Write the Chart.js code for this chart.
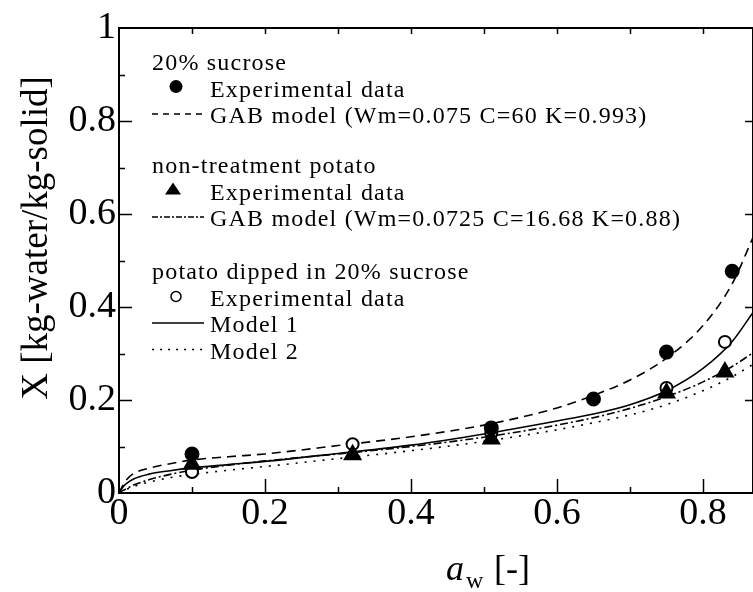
<!DOCTYPE html>
<html>
<head>
<meta charset="utf-8">
<script src="https://cdn.jsdelivr.net/npm/chart.js@4.4.1/dist/chart.umd.min.js"></script>
<style>
    body { margin: 0; background: #fff; overflow: hidden; }
    #wrap { width: 753px; height: 592px; position: relative; }
    canvas { display: block; }
</style>
</head>
<body>
<div id="wrap"><canvas id="sorptionChart"></canvas></div>
<script>
// model curves
const awModel = [0, 0.005, 0.01, 0.02, 0.04, 0.07, 0.1, 0.15, 0.2, 0.3, 0.4, 0.5, 0.6, 0.65, 0.7, 0.75, 0.8, 0.84, 0.87];
const gabSucrose = [0, 0.016, 0.028, 0.042, 0.053, 0.063, 0.071, 0.078, 0.084, 0.102, 0.121, 0.146, 0.183, 0.21, 0.243, 0.29, 0.36, 0.45, 0.555];
const gabPotato = [0, 0.005, 0.009, 0.017, 0.028, 0.04, 0.049, 0.06, 0.069, 0.084, 0.1, 0.12, 0.146, 0.162, 0.182, 0.207, 0.239, 0.272, 0.303];
const model1 = [0, 0.012, 0.02, 0.03, 0.04, 0.048, 0.054, 0.061, 0.068, 0.085, 0.103, 0.127, 0.155, 0.17, 0.19, 0.22, 0.268, 0.326, 0.392];
const model2 = [0, 0.004, 0.008, 0.014, 0.023, 0.033, 0.04, 0.049, 0.057, 0.074, 0.091, 0.111, 0.136, 0.151, 0.168, 0.19, 0.22, 0.25, 0.278];

// experimental points
const sucroseAw = [0.1, 0.51, 0.65, 0.75, 0.84];
const sucroseX = [0.084, 0.14, 0.202, 0.303, 0.477];
const potatoAw = [0.1, 0.32, 0.51, 0.75, 0.83];
const potatoX = [0.062, 0.082, 0.116, 0.215, 0.26];
const dippedAw = [0.1, 0.32, 0.51, 0.75, 0.83];
const dippedX = [0.045, 0.105, 0.129, 0.226, 0.325];

// axis ticks
const xTicks = [0, 0.2, 0.4, 0.6, 0.8];
const yTicks = [0, 0.2, 0.4, 0.6, 0.8, 1];

const SERIF = '"Liberation Serif", "Times New Roman", serif';

function pairs(xs, ys) {
    return xs.map((x, i) => ({x: x, y: ys[i]}));
}

function curve(ys, dash) {
    return {
        data: pairs(awModel, ys),
        showLine: true,
        borderColor: '#000',
        borderWidth: 1.6,
        borderDash: dash,
        pointRadius: 0,
        cubicInterpolationMode: 'monotone',
        fill: false,
        order: 2
    };
}

function marks(xs, ys, style, fill, radius) {
    return {
        data: pairs(xs, ys),
        showLine: false,
        pointStyle: style,
        pointRadius: radius,
        pointBackgroundColor: fill,
        pointBorderColor: '#000',
        pointBorderWidth: 2,
        order: 1
    };
}

// legend inside the plot
const legendRows = [
    {y: 70, head: '20% sucrose'},
    {y: 96.5, mark: 'disc', text: 'Experimental data'},
    {y: 123, dash: [6, 5], text: 'GAB model (Wm=0.075 C=60 K=0.993)'},
    {y: 173, head: 'non-treatment potato'},
    {y: 199.5, mark: 'tri', text: 'Experimental data'},
    {y: 226, dash: [6, 2, 2, 2], text: 'GAB model (Wm=0.0725 C=16.68 K=0.88)'},
    {y: 279, head: 'potato dipped in 20% sucrose'},
    {y: 305.5, mark: 'ring', text: 'Experimental data'},
    {y: 332, dash: [], text: 'Model 1'},
    {y: 358.5, dash: [2, 6], text: 'Model 2'}
];

const framePlugin = {
    id: 'frame',
    afterDraw(chart) {
        const c = chart.ctx;
        const a = chart.chartArea;
        const xs = chart.scales.x;
        const ys = chart.scales.y;
        c.save();
        c.strokeStyle = '#000';
        c.lineWidth = 2;
        c.setLineDash([]);
        c.beginPath();
        c.moveTo(a.left, a.top);
        c.lineTo(a.right, a.top);
        c.lineTo(a.right, a.bottom);
        c.lineTo(a.left, a.bottom);
        c.closePath();
        c.stroke();

        c.lineWidth = 1.5;
        c.beginPath();
        for (let i = 1; i <= 8; i++) {
            const px = Math.round(xs.getPixelForValue(i / 10)) + 0.5;
            const len = i % 2 === 0 ? 14 : 6;
            c.moveTo(px, a.bottom);
            c.lineTo(px, a.bottom - len);
            c.moveTo(px, a.top);
            c.lineTo(px, a.top + 6);
        }
        for (let i = 1; i <= 9; i++) {
            const py = Math.round(ys.getPixelForValue(i / 10)) + 0.5;
            const len = i % 2 === 0 ? 13 : 6;
            c.moveTo(a.left, py);
            c.lineTo(a.left + len, py);
            if (i % 2 === 0) {
                c.moveTo(a.right, py);
                c.lineTo(a.right - 8, py);
            }
        }
        c.stroke();

        // axis titles
        c.fillStyle = '#000';
        c.textBaseline = 'alphabetic';
        c.save();
        c.translate(47, 238);
        c.rotate(-Math.PI / 2);
        c.textAlign = 'center';
        c.font = '37px ' + SERIF;
        c.fillText('X [kg-water/kg-solid]', 0, 0);
        c.restore();

        c.textAlign = 'left';
        c.font = 'italic 36px ' + SERIF;
        c.fillText('a', 446, 580);
        c.font = '24px ' + SERIF;
        c.fillText('w', 466, 588);
        c.font = '36px ' + SERIF;
        c.fillText(' [-]', 485, 580);

        // legend
        c.letterSpacing = '1.2px';
        c.font = '24px ' + SERIF;
        legendRows.forEach(row => {
            if (row.head) {
                c.fillText(row.head, 152, row.y);
                return;
            }
            const my = row.y - 9;
            if (row.mark === 'disc') {
                c.beginPath();
                c.arc(176, my - 1, 6.5, 0, Math.PI * 2);
                c.fill();
            } else if (row.mark === 'ring') {
                c.beginPath();
                c.arc(176, my, 5, 0, Math.PI * 2);
                c.lineWidth = 1.5;
                c.stroke();
            } else if (row.mark === 'tri') {
                c.beginPath();
                c.moveTo(173, my - 8);
                c.lineTo(181, my + 4);
                c.lineTo(165, my + 4);
                c.closePath();
                c.fill();
            } else {
                c.beginPath();
                c.lineWidth = 1.5;
                c.setLineDash(row.dash);
                c.moveTo(152, my);
                c.lineTo(204, my);
                c.stroke();
                c.setLineDash([]);
            }
            c.fillText(row.text, 210, row.y);
        });
        c.restore();
    }
};

const ctx = document.getElementById('sorptionChart').getContext('2d');
const sorptionChart = new Chart(ctx, {
    type: 'scatter',
    data: {
        datasets: [
            marks(sucroseAw, sucroseX, 'circle', '#000', 6.5),
            marks(potatoAw, potatoX, 'triangle', '#000', 9),
            marks(dippedAw, dippedX, 'circle', '#fff', 6),
            curve(gabSucrose, [9, 6]),
            curve(gabPotato, [8, 3, 2, 3]),
            curve(model1, []),
            curve(model2, [2, 7])
        ]
    },
    options: {
        responsive: true,
        maintainAspectRatio: false,
        animation: false,
        layout: {
            autoPadding: false,
            padding: {top: 28, right: 0, left: 0, bottom: 0}
        },
        scales: {
            x: {
                type: 'linear',
                min: 0,
                max: 0.8685,
                afterBuildTicks: scale => {
                    scale.ticks = xTicks.map(v => ({value: v}));
                },
                afterFit: scale => {
                    scale.height = 99;
                    scale.paddingRight = 0;
                    scale.paddingLeft = 0;
                },
                grid: {display: false, drawTicks: false},
                border: {display: false},
                ticks: {
                    padding: -2,
                    color: '#000',
                    font: {family: SERIF, size: 38},
                    callback: v => String(v)
                }
            },
            y: {
                type: 'linear',
                min: 0,
                max: 1,
                afterBuildTicks: scale => {
                    scale.ticks = yTicks.map(v => ({value: v}));
                },
                afterFit: scale => {
                    scale.width = 119;
                    scale.paddingTop = 0;
                    scale.paddingBottom = 0;
                },
                grid: {display: false, drawTicks: false},
                border: {display: false},
                ticks: {
                    padding: 3,
                    color: '#000',
                    font: {family: SERIF, size: 38},
                    callback: v => String(v)
                }
            }
        },
        plugins: {
            legend: {display: false},
            tooltip: {enabled: false}
        }
    },
    plugins: [framePlugin]
});
</script>
</body>
</html>
